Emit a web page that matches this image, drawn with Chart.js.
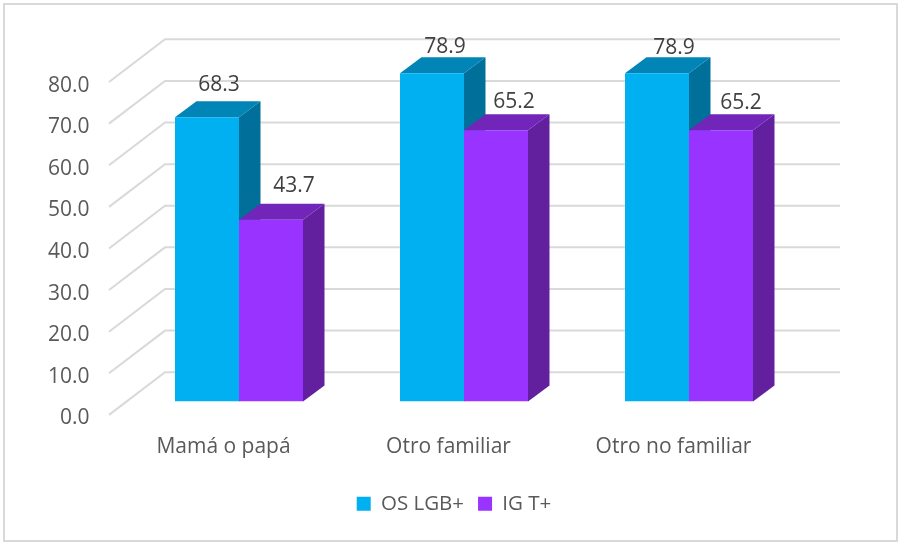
<!DOCTYPE html>
<html>
<head>
<meta charset="utf-8">
<style>html,body{margin:0;padding:0;background:#fff}#w{width:900px;height:542px;position:relative}</style>
<script src="https://cdn.jsdelivr.net/npm/chart.js@4"></script>
</head>
<body>
<div id="w"><canvas id="c" width="900" height="542"></canvas></div>
<script>
const categories = ["Mamá o papá", "Otro familiar", "Otro no familiar"];
const seriesNames = ["OS LGB+", "IG T+"];
const osLgb = [68.3, 78.9, 78.9];
const igT = [43.7, 65.2, 65.2];
const yTicks = [0, 10, 20, 30, 40, 50, 60, 70, 80];

const FONT = '"Open Sans", sans-serif';
const faces = [
  {front: '#00B0F0', top: '#0085B6', side: '#00709A'},
  {front: '#9933FF', top: '#7226B9', side: '#62209F'}
];
const barDepth = {dx: 21.5, dy: 16};
const wallShift = {dx: 38.5, dy: 29.3};     // bar plane -> back wall
const floorShift = {dx: -17.5, dy: 13.4};   // bar plane -> front edge of floor
const labelNudge = [[[12, -16], [13, -10], [17, -9]], [[23, -18], [18, -12], [20, -11]]];

const threeD = {
  id: 'threeD',
  afterLayout(chart) {
    chart.legend.left = 0;
    chart.legend.right = 908;
  },
  beforeDraw(chart) {
    const ctx = chart.ctx;
    ctx.save();
    ctx.fillStyle = '#fff';
    ctx.fillRect(0, 0, chart.width, chart.height);
    ctx.strokeStyle = '#D9D9D9';
    ctx.lineWidth = 2;
    ctx.strokeRect(4, 4, 893, 537);
    ctx.restore();
  },
  beforeDatasetsDraw(chart) {
    const ctx = chart.ctx, y = chart.scales.y, x = chart.scales.x;
    ctx.save();
    ctx.strokeStyle = '#D9D9D9';
    ctx.lineWidth = 2;
    ctx.lineJoin = 'miter';
    yTicks.forEach(v => {
      const p = y.getPixelForValue(v);
      ctx.beginPath();
      ctx.moveTo(x.left + floorShift.dx, p + floorShift.dy);
      ctx.lineTo(x.left + wallShift.dx, p - wallShift.dy);
      ctx.lineTo(x.right + wallShift.dx, p - wallShift.dy);
      ctx.stroke();
    });
    chart.data.datasets.forEach((ds, di) => {
      chart.getDatasetMeta(di).data.forEach(b => {
        const l = b.x - b.width / 2, r = b.x + b.width / 2, t = b.y, bo = b.base;
        const {dx, dy} = barDepth;
        ctx.fillStyle = faces[di].side;
        ctx.beginPath();
        ctx.moveTo(r, t); ctx.lineTo(r + dx, t - dy); ctx.lineTo(r + dx, bo - dy); ctx.lineTo(r, bo);
        ctx.closePath(); ctx.fill();
        ctx.fillStyle = faces[di].top;
        ctx.beginPath();
        ctx.moveTo(l, t); ctx.lineTo(l + dx, t - dy); ctx.lineTo(r + dx, t - dy); ctx.lineTo(r, t);
        ctx.closePath(); ctx.fill();
      });
    });
    ctx.restore();
  },
  afterDatasetsDraw(chart) {
    const ctx = chart.ctx;
    ctx.save();
    ctx.fillStyle = '#404040';
    ctx.font = '21px ' + FONT;
    ctx.textAlign = 'center';
    ctx.textBaseline = 'middle';
    chart.data.datasets.forEach((ds, di) => {
      chart.getDatasetMeta(di).data.forEach((b, i) => {
        const n = labelNudge[di][i];
        ctx.fillText(ds.data[i].toFixed(1), b.x + n[0], b.y - barDepth.dy + n[1]);
      });
    });
    ctx.restore();
  }
};

new Chart(document.getElementById('c'), {
  type: 'bar',
  data: {
    labels: categories,
    datasets: [
      {label: seriesNames[0], data: osLgb, backgroundColor: faces[0].front},
      {label: seriesNames[1], data: igT, backgroundColor: faces[1].front}
    ]
  },
  plugins: [threeD],
  options: {
    responsive: false,
    animation: false,
    events: [],
    layout: {padding: {left: 0, right: 98.5, top: 68.6, bottom: 18}},
    datasets: {bar: {categoryPercentage: 128 / 225, barPercentage: 1}},
    plugins: {
      tooltip: {enabled: false},
      legend: {
        position: 'bottom',
        labels: {
          boxWidth: 14, boxHeight: 14, padding: 14,
          color: '#595959',
          font: {family: FONT, size: 20.5}
        }
      }
    },
    scales: {
      x: {
        grid: {display: false, drawTicks: false},
        border: {display: false},
        ticks: {color: '#595959', font: {family: FONT, size: 21}, labelOffset: -15.5, padding: 33, maxRotation: 0},
        afterFit(s) { s.height = 78; }
      },
      y: {
        min: 0, max: 80,
        grid: {display: false, drawTicks: false},
        border: {display: false},
        afterFit(s) { s.width = 126.5; },
        afterBuildTicks(s) { s.ticks = yTicks.map(v => ({value: v})); },
        ticks: {
          color: '#595959', font: {family: FONT, size: 21},
          labelOffset: 17, padding: 37,
          callback: v => Number(v).toFixed(1)
        }
      }
    }
  }
});
</script>
</body>
</html>
